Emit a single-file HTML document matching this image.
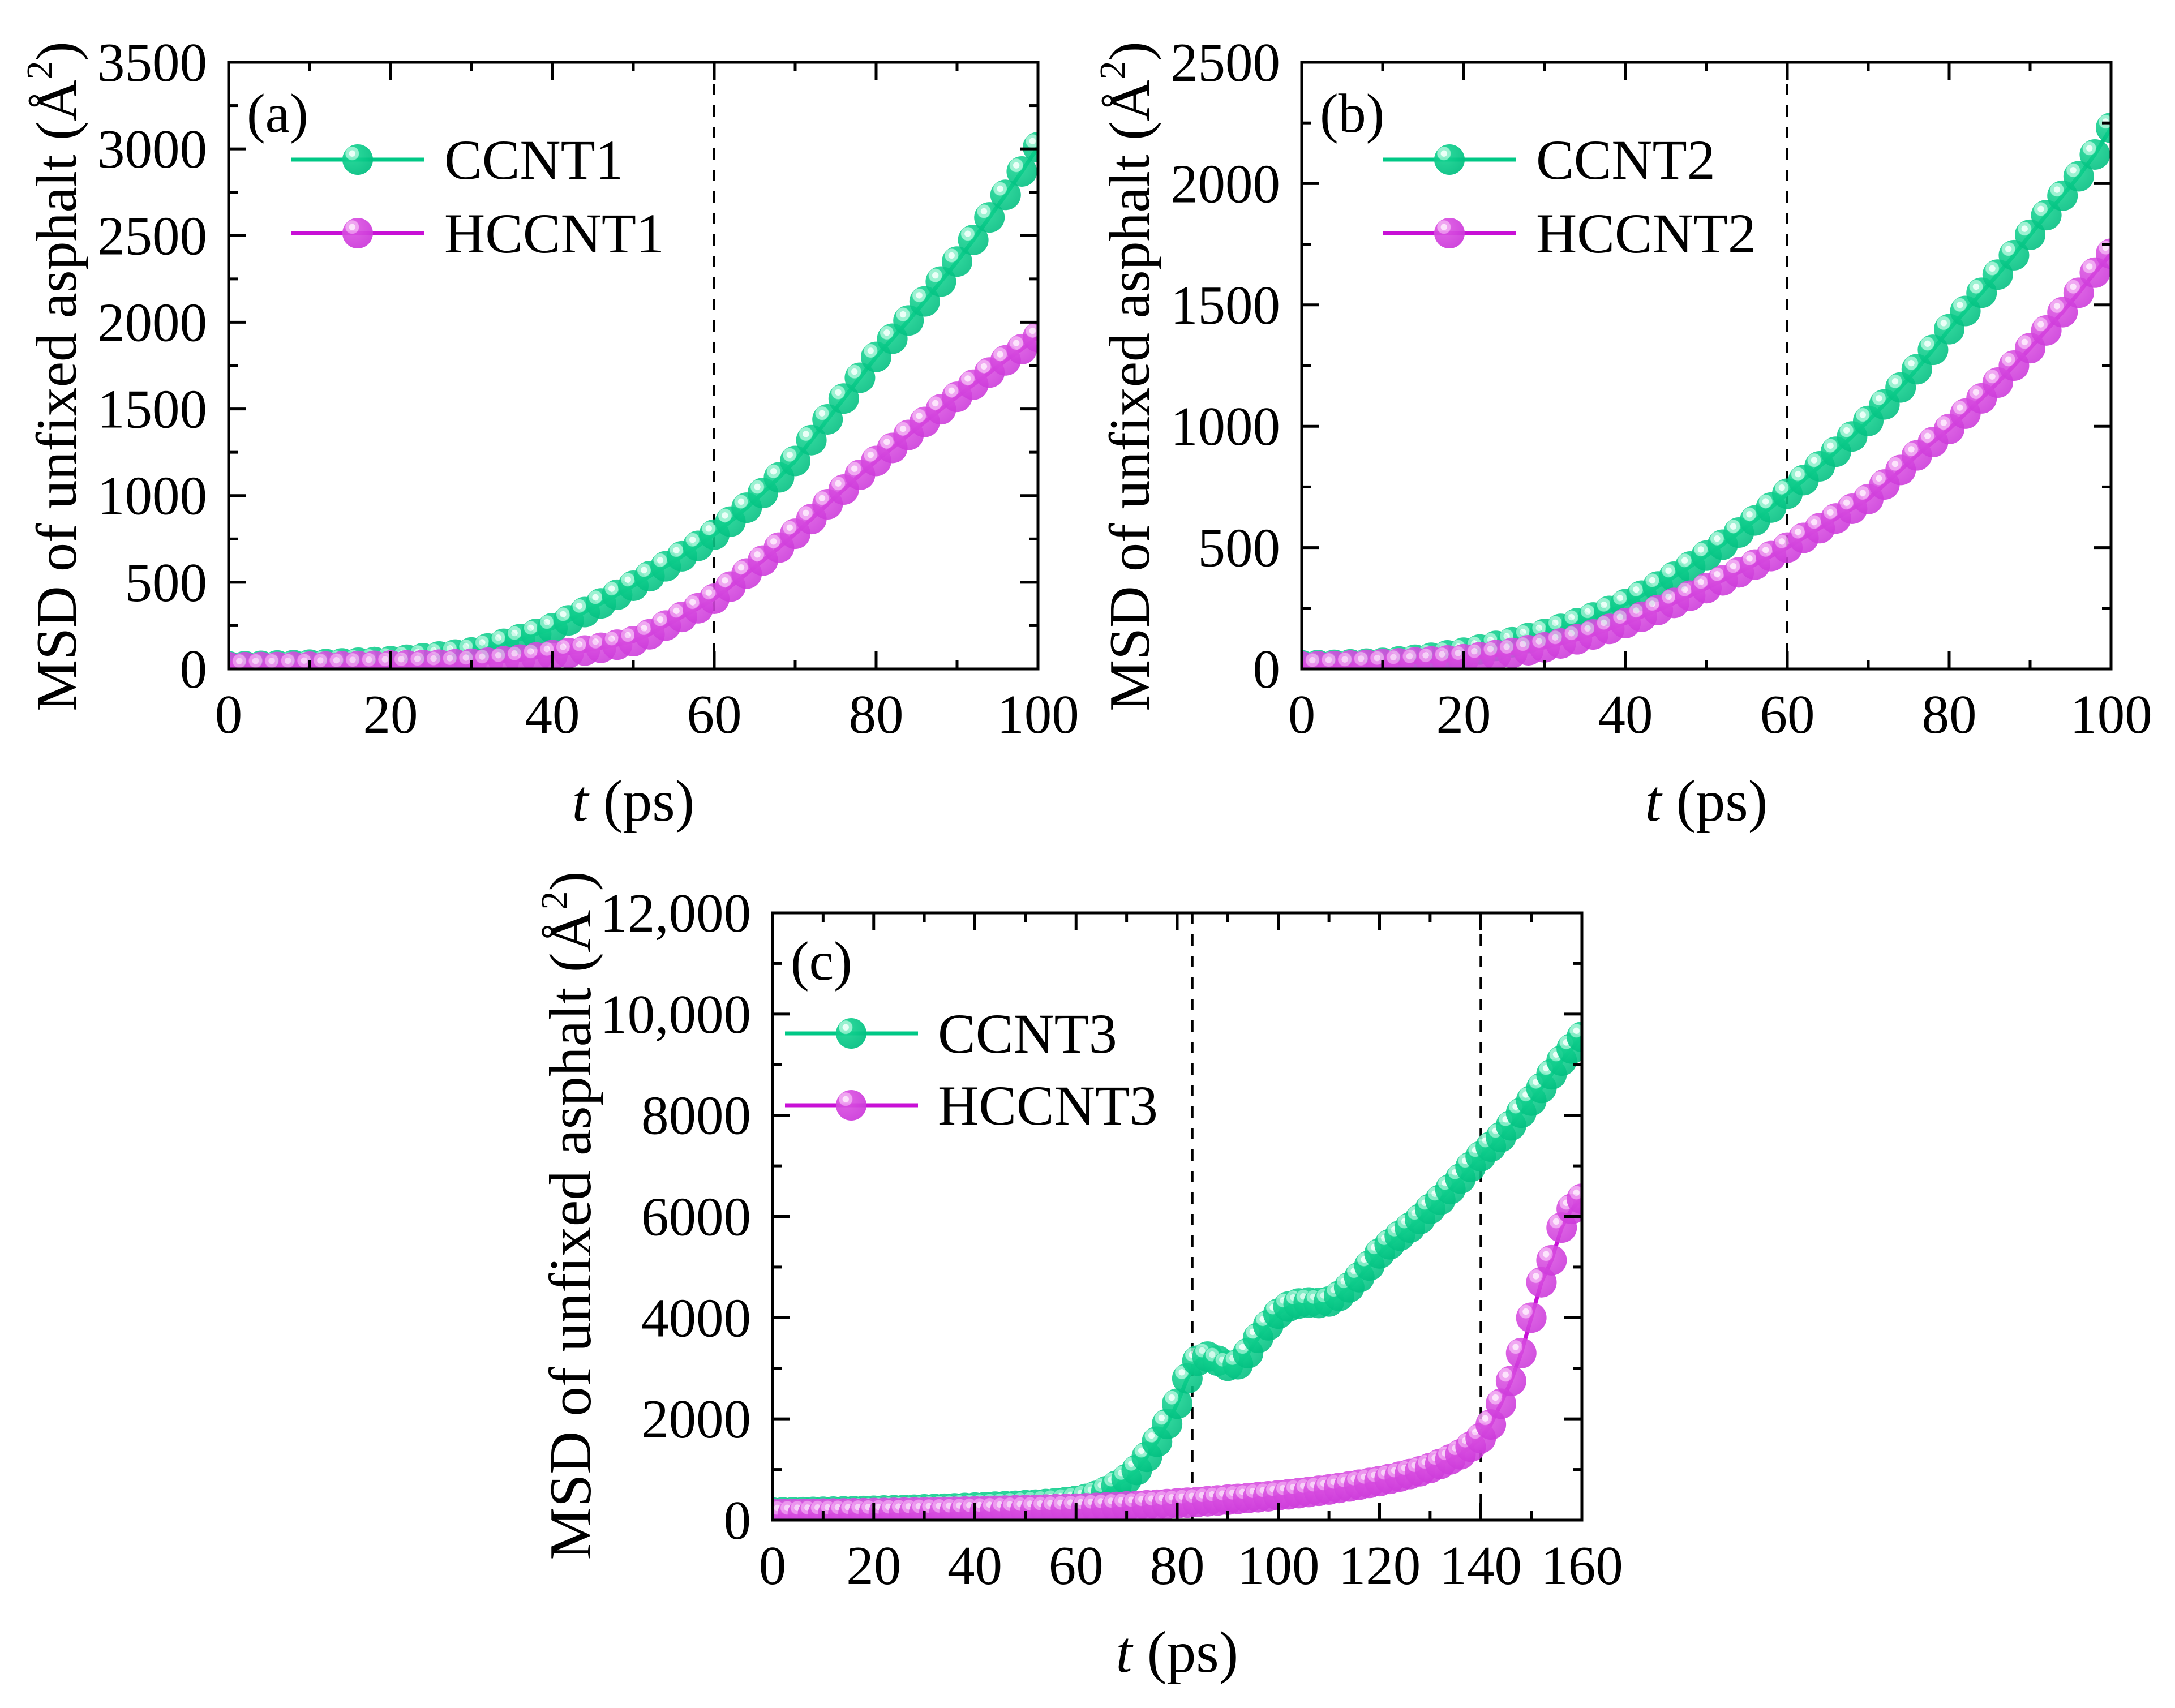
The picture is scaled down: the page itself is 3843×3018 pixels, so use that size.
<!DOCTYPE html>
<html><head><meta charset="utf-8"><style>
html,body{margin:0;padding:0;background:#fff;}
svg{display:block;font-family:"Liberation Serif","Times New Roman",serif;}
</style></head><body>
<svg id="fig" width="3843" height="3018" viewBox="0 0 3843 3018" xmlns="http://www.w3.org/2000/svg">
<defs>
<radialGradient id="hlG" cx="0.32" cy="0.3" r="0.75">
<stop offset="0" stop-color="#e8fff6"/><stop offset="0.13" stop-color="#e8fff6"/><stop offset="0.15" stop-color="#8ff0cc"/><stop offset="0.28" stop-color="#8ff0cc"/><stop offset="0.31" stop-color="#12d08e"/><stop offset="1" stop-color="#00bf80"/>
</radialGradient>
<radialGradient id="hlM" cx="0.32" cy="0.3" r="0.75">
<stop offset="0" stop-color="#fbe0fb"/><stop offset="0.13" stop-color="#fbe0fb"/><stop offset="0.15" stop-color="#ee9cf0"/><stop offset="0.28" stop-color="#ee9cf0"/><stop offset="0.31" stop-color="#d84ee0"/><stop offset="1" stop-color="#cc38da"/>
</radialGradient>
</defs>
</svg>
<script>
// ---- data ----
const tAB = [0,2,4,6,8,10,12,14,16,18,20,22,24,26,28,30,32,34,36,38,40,42,44,46,48,50,52,54,56,58,60,62,64,66,68,70,72,74,76,78,80,82,84,86,88,90,92,94,96,98,100];
const ccnt1 = [15,16,18,20,22,25,28,32,36,40,45,53,62,72,83,95,118,145,172,202,235,280,328,378,428,480,535,592,650,710,775,850,930,1015,1105,1200,1320,1440,1560,1680,1800,1905,2010,2120,2235,2350,2475,2605,2735,2870,3010];
const hccnt1 = [10,10,11,11,12,13,14,15,17,18,20,21,23,25,27,30,36,44,54,66,80,92,106,122,140,160,200,250,300,350,405,475,550,625,700,780,865,950,1035,1120,1200,1275,1350,1425,1498,1570,1640,1710,1780,1845,1915];
const ccnt2 = [15,16,17,19,22,25,31,38,46,56,67,80,95,110,127,144,165,188,212,239,267,302,340,380,422,467,512,562,612,665,722,778,835,895,958,1022,1090,1160,1235,1315,1400,1475,1550,1625,1705,1789,1870,1950,2030,2120,2230];
const hccnt2 = [10,11,12,14,17,20,23,27,31,35,40,48,57,66,77,89,105,122,142,165,189,215,243,272,302,333,365,398,430,465,500,540,580,620,660,700,760,820,880,935,989,1052,1115,1180,1250,1322,1395,1470,1550,1633,1711];
const tC = [0,2,4,6,8,10,12,14,16,18,20,22,24,26,28,30,32,34,36,38,40,42,44,46,48,50,52,54,56,58,60,62,64,66,68,70,72,74,76,78,80,82,84,86,88,90,92,94,96,98,100,102,104,106,108,110,112,114,116,118,120,122,124,126,128,130,132,134,136,138,140,142,144,146,148,150,152,154,156,158,160];
const ccnt3 = [150,152,155,158,162,165,168,172,176,180,185,190,195,200,206,212,218,225,232,240,248,256,265,274,283,293,305,318,335,355,380,420,480,570,680,810,990,1250,1550,1900,2300,2800,3150,3230,3150,3050,3080,3300,3600,3850,4080,4220,4280,4300,4290,4320,4430,4600,4800,5030,5270,5450,5620,5780,5950,6150,6330,6540,6750,6980,7190,7380,7570,7800,8050,8290,8540,8810,9080,9320,9550];
const hccnt3 = [120,121,122,124,126,128,130,132,134,136,138,141,144,147,150,153,157,161,165,169,174,178,183,188,193,198,203,208,214,220,226,234,242,250,260,270,280,292,304,316,330,344,358,372,388,404,420,436,452,470,490,510,532,555,580,605,635,665,700,735,770,815,860,910,965,1030,1110,1200,1300,1450,1620,1890,2300,2750,3300,4000,4700,5135,5780,6150,6350];
const xTicksAB = [0,20,40,60,80,100];
const xTicksC = [0,20,40,60,80,100,120,140,160];
const yTicksA = [0,500,1000,1500,2000,2500,3000,3500];
const yTicksB = [0,500,1000,1500,2000,2500];
const yTicksC = [0,2000,4000,6000,8000,10000,12000];
const yLabelsC = ["0","2000","4000","6000","8000","10,000","12,000"];
const legendA = ["CCNT1","HCCNT1"], legendB = ["CCNT2","HCCNT2"], legendC = ["CCNT3","HCCNT3"];
const vlinesA = [60], vlinesB = [60], vlinesC = [83,140];

const NS = "http://www.w3.org/2000/svg";
const svg = document.getElementById('fig');
function mk(tag, attrs, parent){
  const e = document.createElementNS(NS, tag);
  for (const k in attrs) e.setAttribute(k, attrs[k]);
  (parent||svg).appendChild(e);
  return e;
}
const GREEN = "#00c886", MAG = "#c810d6";
const R_MK = 27;

function panel(o){
  const g = mk('g', {});
  
  
  const L=o.L, R=o.R, T=o.T, B=o.B;
  const xs = v => L + (v - o.xmin)/(o.xmax - o.xmin)*(R-L);
  const ys = v => B - (v - o.ymin)/(o.ymax - o.ymin)*(B-T);
  const cid = 'clip-' + o.name;
  const cp = mk('clipPath', {id: cid}, g);
  mk('rect', {x:L, y:T, width:R-L, height:B-T}, cp);
  o.vlines.forEach(v => {
    const l = mk('line', {x1:xs(v), x2:xs(v), y1:T, y2:B, stroke:'#000', 'stroke-width':4, 'stroke-dasharray':'20 18'}, g);
    
    
  });
  const series = [{vals:o.s1, col:GREEN, grad:'url(#hlG)', name:o.leg[0]}, {vals:o.s2, col:MAG, grad:'url(#hlM)', name:o.leg[1]}];
  series.forEach(s => {
    const sg = mk('g', {'clip-path':'url(#'+cid+')'}, g);
    
    
    const pts = o.t.map((t,i) => xs(t).toFixed(1)+','+ys(s.vals[i]).toFixed(1)).join(' ');
    const pl = mk('polyline', {points:pts, fill:'none', stroke:s.col, 'stroke-width':7}, sg);
    
    
    o.t.forEach((t,i) => {
      const c = mk('circle', {cx:xs(t), cy:ys(s.vals[i]), r:R_MK, fill:s.grad, 'fill-opacity':0.88}, sg);
      
      
    });
  });
  const fr = mk('rect', {x:L, y:T, width:R-L, height:B-T, fill:'none', stroke:'#000', 'stroke-width':5}, g);
  
  
  const xstep = o.xTicks[1]-o.xTicks[0];
  for (let v=o.xmin; v<=o.xmax+1e-9; v+=xstep/2){
    const major = o.xTicks.includes(v);
    const len = major?31:16, x=xs(v);
    mk('line', {x1:x,x2:x,y1:B,y2:B-len,stroke:'#000','stroke-width':5}, g);
    mk('line', {x1:x,x2:x,y1:T,y2:T+len,stroke:'#000','stroke-width':5}, g);
  }
  o.xTicks.forEach(v => {
    const tx = mk('text', {x:xs(v), y:B+113, 'font-size':97, 'text-anchor':'middle'}, g);
    tx.textContent = String(v);
    
    
  });
  const ystep = o.yTicks[1]-o.yTicks[0];
  for (let v=o.ymin; v<=o.ymax+1e-9; v+=ystep/2){
    const major = o.yTicks.includes(v);
    const len = major?31:16, y=ys(v);
    mk('line', {x1:L,x2:L+len,y1:y,y2:y,stroke:'#000','stroke-width':5}, g);
    mk('line', {x1:R,x2:R-len,y1:y,y2:y,stroke:'#000','stroke-width':5}, g);
  }
  o.yTicks.forEach((v,i) => {
    const ty = mk('text', {x:L-38, y:ys(v)+33, 'font-size':97, 'text-anchor':'end'}, g);
    ty.textContent = o.yLabels ? o.yLabels[i] : String(v);
    
    
  });
  const xt = mk('text', {x:(L+R)/2, y:B+268, 'font-size':104, 'text-anchor':'middle'}, g);
  
  
  xt.innerHTML = '<tspan font-style="italic">t</tspan> (ps)';
  const yx = L-o.titleOff, yy = T+o.titleDy;
  const yt = mk('text', {x:yx, y:yy, 'font-size':o.titleFs, 'text-anchor':'middle', transform:'rotate(-90 '+yx+' '+yy+')'}, g);
  
  
  yt.innerHTML = 'MSD of unfixed asphalt (Å<tspan font-size="66" dy="-42">2</tspan><tspan dy="42">)</tspan>';
  const pl = mk('text', {x:L+32, y:T+o.labDy, 'font-size':98}, g);
  pl.textContent = o.label;
  
  
  o.leg.forEach((name,i) => {
    const lg = mk('g', {}, g);
    
    
    const y = T + o.legY[i], col = i? MAG : GREEN;
    mk('line', {x1:o.legX, x2:o.legX+235, y1:y, y2:y, stroke:col, 'stroke-width':7}, lg);
    mk('circle', {cx:o.legX+117, cy:y, r:R_MK, fill: i?'url(#hlM)':'url(#hlG)', 'fill-opacity':0.92}, lg);
    const tx = mk('text', {x:o.legX+270, y:y+34, 'font-size':100}, lg);
    tx.textContent = name;
  });
}

panel({name:'panel-a', L:404, R:1834, T:110, B:1182, xmin:0, xmax:100, ymin:0, ymax:3500,
  t:tAB, s1:ccnt1, s2:hccnt1, xTicks:xTicksAB, yTicks:yTicksA, leg:legendA, vlines:vlinesA,
  label:'(a)', labDy:123, legX:515, legY:[172,302], titleOff:270, titleDy:555, titleFs:102});
panel({name:'panel-b', L:2300, R:3730, T:110, B:1182, xmin:0, xmax:100, ymin:0, ymax:2500,
  t:tAB, s1:ccnt2, s2:hccnt2, xTicks:xTicksAB, yTicks:yTicksB, leg:legendB, vlines:vlinesB,
  label:'(b)', labDy:123, legX:2444, legY:[172,302], titleOff:270, titleDy:555, titleFs:102});
panel({name:'panel-c', L:1365, R:2795, T:1613, B:2686, xmin:0, xmax:160, ymin:0, ymax:12000,
  t:tC, s1:ccnt3, s2:hccnt3, xTicks:xTicksC, yTicks:yTicksC, yLabels:yLabelsC, leg:legendC, vlines:vlinesC,
  label:'(c)', labDy:118, legX:1387, legY:[213,340], titleOff:322, titleDy:535, titleFs:105});
</script>
</body></html>
